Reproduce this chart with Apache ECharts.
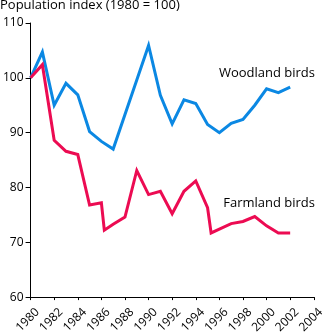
<!DOCTYPE html>
<html><head><meta charset="utf-8">
<script src="https://cdn.jsdelivr.net/npm/echarts@6/dist/echarts.min.js"></script>
<style>html,body{margin:0;padding:0;background:#fff}#c{width:327px;height:336px}</style>
</head><body><div id="c"></div>
<script>
const woodlandYears = [1980,1981,1982,1983,1984,1985,1986,1987,1988,1989,1990,1991,1992,1993,1994,1995,1996,1997,1998,1999,2000,2001,2002];
const woodland = [100,104.7,95.0,99.0,96.9,90.2,88.4,87.0,93.3,99.6,105.9,96.8,91.6,96.0,95.3,91.5,90.0,91.7,92.4,95.0,98.0,97.3,98.3];
const farmlandYears = [1980,1981,1982,1983,1984,1985,1986,1986.25,1987,1988,1989,1990,1991,1992,1993,1994,1995,1995.3,1996,1997,1998,1999,2000,2001,2002];
const farmland = [100,102.4,88.6,86.6,86.0,76.8,77.2,72.2,73.3,74.6,83.1,78.7,79.3,75.2,79.3,81.2,76.3,71.7,72.4,73.4,73.8,74.7,73.0,71.7,71.7];
const yTicks = [60,70,80,90,100,110];
const xTicks = [1980,1982,1984,1986,1988,1990,1992,1994,1996,1998,2000,2002,2004];
const titleText = 'Population index (1980 = 100)';
const woodlandName = 'Woodland birds';
const farmlandName = 'Farmland birds';

const FONT = 'Open Sans';
const chart = echarts.init(document.getElementById('c'), null, {renderer:'canvas'});
chart.setOption({
  animation:false,
  backgroundColor:'#fff',
  grid:{left:29,right:6,top:23,bottom:37,containLabel:false},
  xAxis:{type:'value',min:xTicks[0],max:xTicks[xTicks.length-1],interval:2,
    axisLine:{lineStyle:{color:'#000',width:1}},
    axisTick:{show:true,length:3,lineStyle:{color:'#000'}},
    splitLine:{show:false},
    axisLabel:{rotate:45,color:'#000',fontFamily:FONT,fontSize:12,margin:20,align:'center',verticalAlign:'middle',padding:[0,8,0,0],formatter:v=>String(v)}},
  yAxis:{type:'value',min:yTicks[0],max:yTicks[yTicks.length-1],interval:10,
    axisLine:{show:true,lineStyle:{color:'#000',width:1}},
    axisTick:{show:true,length:5,lineStyle:{color:'#000'}},
    splitLine:{show:false},
    axisLabel:{color:'#000',fontFamily:FONT,fontSize:12,margin:7}},
  graphic:[
    {type:'text',left:0,top:-1,style:{text:titleText,fill:'#000',font:'13px "Open Sans"'}},
    {type:'text',right:12,top:67,style:{text:woodlandName,fill:'#000',font:'13px "Open Sans"'}},
    {type:'text',right:12,top:197,style:{text:farmlandName,fill:'#000',font:'13px "Open Sans"'}}
  ],
  series:[
    {type:'line',name:woodlandName,data:woodlandYears.map((y,i)=>[y,woodland[i]]),showSymbol:false,symbol:'none',
      lineStyle:{color:'#0b88e3',width:3,join:'miter'}},
    {type:'line',name:farmlandName,data:farmlandYears.map((y,i)=>[y,farmland[i]]),showSymbol:false,symbol:'none',
      lineStyle:{color:'#ec0b52',width:3,join:'miter'}}
  ]
});
</script></body></html>
